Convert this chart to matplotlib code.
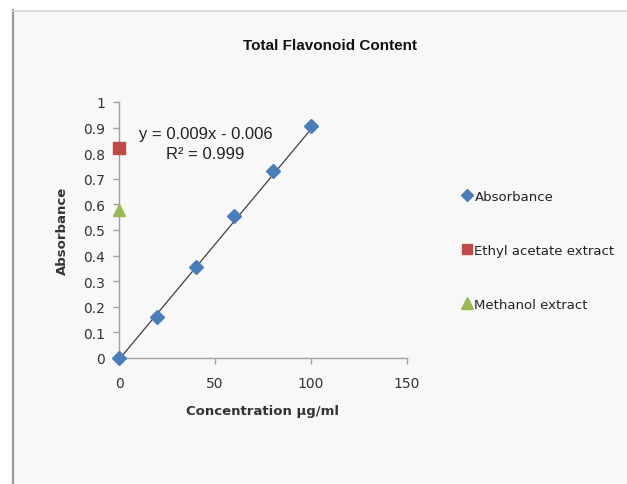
import matplotlib.pyplot as plt
import numpy as np
from matplotlib.lines import Line2D

# Calibration data (quercetin standard) and extract readings
conc = [0, 20, 40, 60, 80, 100]
absorbance = [0.0, 0.16, 0.355, 0.555, 0.73, 0.905]
ethyl_x, ethyl_y = [0], [0.82]
methanol_x, methanol_y = [0], [0.58]
slope, intercept = 0.009, -0.006
r2 = 0.999

W, H = 627, 485
fig = plt.figure(figsize=(W / 100, H / 100), dpi=100)
fig.patch.set_facecolor('white')

# chart area background + border
fig.patches.append(plt.Rectangle((12 / W, 0), 1, 1 - 11 / H, transform=fig.transFigure,
                                 facecolor='#f8f8f8', edgecolor='none', zorder=-5))
fig.add_artist(Line2D([12.5 / W, 12.5 / W], [0, 1 - 11 / H], transform=fig.transFigure,
                      color='#9a9a9a', lw=1.6, zorder=-4))
fig.add_artist(Line2D([12 / W, 1], [1 - 11.5 / H, 1 - 11.5 / H], transform=fig.transFigure,
                      color='#d4d4d4', lw=1.2, zorder=-4))

ax = fig.add_axes([119 / W, 1 - 359 / H, (407 - 119) / W, (359 - 103) / H])
ax.set_facecolor('none')

xs = np.array([0, 100])
ax.plot(xs, slope * xs + intercept, color='#404040', lw=0.9, zorder=2)
ax.plot(conc, absorbance, 'D', color='#4a7ebb', ms=7, mec='#4a7ebb', zorder=3, clip_on=False)
ax.plot(ethyl_x, ethyl_y, 's', color='#be4b48', ms=8, zorder=3, clip_on=False)
ax.plot(methanol_x, methanol_y, '^', color='#98b954', ms=9, zorder=3, clip_on=False)

ax.set_xlim(0, 150)
ax.set_ylim(0, 1)
ax.set_xticks([0, 50, 100, 150])
ax.set_yticks(np.arange(0, 1.01, 0.1))
ax.set_yticklabels(['0', '0.1', '0.2', '0.3', '0.4', '0.5', '0.6', '0.7', '0.8', '0.9', '1'])
for s in ['top', 'right']:
    ax.spines[s].set_visible(False)
for s in ['left', 'bottom']:
    ax.spines[s].set_color('#a0a0a0')
    ax.spines[s].set_linewidth(1.0)
ax.tick_params(colors='#a0a0a0', labelcolor='#333333', labelsize=10, length=4, width=1, pad=6)
ax.tick_params(axis='x', pad=9)

ax.set_xlabel('Concentration µg/ml', fontsize=9.5, fontweight='bold', color='#333333', labelpad=10)
ax.set_ylabel('Absorbance', fontsize=9.5, fontweight='bold', color='#333333', labelpad=10)

ax.text(0.30, 0.838, f'y = {slope}x - {abs(intercept)}\nR² = {r2}', transform=ax.transAxes,
        ha='center', va='center', fontsize=12, color='#222222', linespacing=1.4,
        family='Liberation Sans')

fig.text(330 / W, 1 - 46 / H, 'Total Flavonoid Content', ha='center', va='center',
         fontsize=11, fontweight='bold', color='#111111', family='Liberation Sans')

handles = [
    Line2D([], [], marker='D', ls='none', color='#4a7ebb', ms=6),
    Line2D([], [], marker='s', ls='none', color='#be4b48', ms=7),
    Line2D([], [], marker='^', ls='none', color='#98b954', ms=8),
]
fig.legend(handles, ['Absorbance', 'Ethyl acetate extract', 'Methanol extract'],
           loc='upper left', bbox_to_anchor=(450 / W, 1 - 179 / H), frameon=False,
           fontsize=9.5, handlelength=0.8, handletextpad=0.15, labelspacing=3.1,
           labelcolor='#222222', borderpad=0.4)

fig.savefig('out.png', dpi=100, facecolor=fig.get_facecolor())
